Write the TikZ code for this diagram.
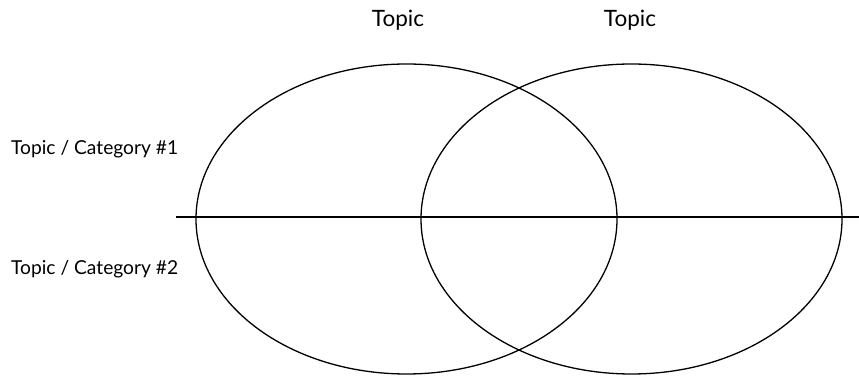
\documentclass[tikz,border=0pt]{standalone}
\usepackage{fontspec}
\setmainfont{Lato}
\usetikzlibrary{positioning}

\begin{document}
\begin{tikzpicture}[x=1pt,y=1pt]
  \tikzstyle{ring}=[line width=1.3pt]
  \tikzstyle{divider}=[line width=1.7pt]
  \tikzstyle{topic}=[inner sep=0pt,anchor=base,font=\fontsize{22.5}{26}\selectfont]
  \tikzstyle{cat}=[inner sep=0pt,anchor=base west,font=\fontsize{19.2}{22}\selectfont]
  \useasboundingbox (0,0) rectangle (859,377);
  % the two sets
  \draw[ring] (406.5,158) ellipse [x radius=210.5,y radius=155];
  \draw[ring] (631.5,158) ellipse [x radius=210.5,y radius=155];
  % line between the two categories
  \coordinate (lstart) at (176,160);
  \coordinate (lend) at (859,160);
  \draw[divider] (lstart) -- (lend);
  \node[topic] (topa) at (398,350) {Topic};
  \node[topic] (topb) at (630,350) {Topic};
  \node[cat] (cata) at (11,222) {Topic / Category \#1};
  \node[cat] (catb) at (11,102) {Topic / Category \#2};
\end{tikzpicture}
\end{document}
